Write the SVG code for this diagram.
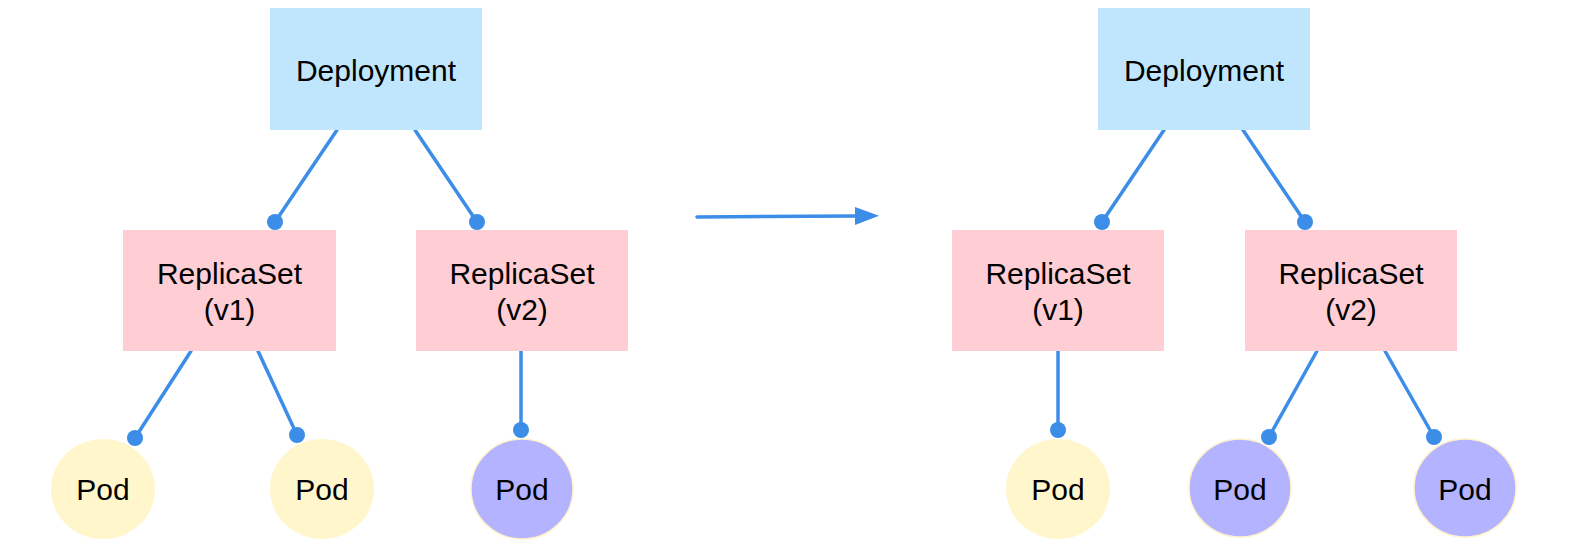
<svg xmlns="http://www.w3.org/2000/svg" width="1572" height="545" viewBox="0 0 1572 545">
<style>
text{font-family:"Liberation Sans",Arial,sans-serif;font-size:30px;fill:#000;text-anchor:middle}
.dep{fill:#c0e6fd}
.rs{fill:#ffced4}
.pody{fill:#fff6cc}
.podp{fill:#b3b3ff;stroke:#fff2cc;stroke-width:1.5}
.ln{stroke:#3c8de8;stroke-width:3.5;fill:none;stroke-linecap:round}
.dot{fill:#3c8de8}
</style>
<defs>
<marker id="ah" viewBox="0 0 24 18" refX="0" refY="9" markerWidth="24" markerHeight="18" markerUnits="userSpaceOnUse" orient="auto">
<path d="M0,0 L24,9 L0,18 Z" fill="#3c8de8"/>
</marker>
</defs>
<g id="connectors">
<line class="ln" x1="337" y1="130" x2="275" y2="222"/>
<line class="ln" x1="415" y1="130" x2="477" y2="222"/>
<line class="ln" x1="191" y1="351" x2="135" y2="438"/>
<line class="ln" x1="258" y1="351" x2="297" y2="435"/>
<line class="ln" x1="521" y1="351" x2="521" y2="430"/>
<line class="ln" x1="1164" y1="130" x2="1102" y2="222"/>
<line class="ln" x1="1243" y1="130" x2="1305" y2="222"/>
<line class="ln" x1="1058" y1="351" x2="1058" y2="430"/>
<line class="ln" x1="1317" y1="351" x2="1269" y2="437"/>
<line class="ln" x1="1385" y1="351" x2="1434" y2="437"/>
<circle class="dot" cx="275" cy="222" r="8"/>
<circle class="dot" cx="477" cy="222" r="8"/>
<circle class="dot" cx="135" cy="438" r="8"/>
<circle class="dot" cx="297" cy="435" r="8"/>
<circle class="dot" cx="521" cy="430" r="8"/>
<circle class="dot" cx="1102" cy="222" r="8"/>
<circle class="dot" cx="1305" cy="222" r="8"/>
<circle class="dot" cx="1058" cy="430" r="8"/>
<circle class="dot" cx="1269" cy="437" r="8"/>
<circle class="dot" cx="1434" cy="437" r="8"/>
<line class="ln" x1="697" y1="217" x2="855" y2="216" marker-end="url(#ah)"/>
</g>
<g id="deployment1"><rect class="dep" x="270" y="8" width="212" height="122"/><text x="376" y="81">Deployment</text></g>
<g id="deployment2"><rect class="dep" x="1098" y="8" width="212" height="122"/><text x="1204" y="81">Deployment</text></g>
<g id="rs1v1"><rect class="rs" x="123" y="230" width="213" height="121"/><text x="229.5" y="284">ReplicaSet</text><text x="229.5" y="320">(v1)</text></g>
<g id="rs1v2"><rect class="rs" x="416" y="230" width="212" height="121"/><text x="522" y="284">ReplicaSet</text><text x="522" y="320">(v2)</text></g>
<g id="rs2v1"><rect class="rs" x="952" y="230" width="212" height="121"/><text x="1058" y="284">ReplicaSet</text><text x="1058" y="320">(v1)</text></g>
<g id="rs2v2"><rect class="rs" x="1245" y="230" width="212" height="121"/><text x="1351" y="284">ReplicaSet</text><text x="1351" y="320">(v2)</text></g>
<g id="pod1"><ellipse class="pody" cx="103" cy="489" rx="52" ry="50"/><text x="103" y="500">Pod</text></g>
<g id="pod2"><ellipse class="pody" cx="322" cy="489" rx="52" ry="50"/><text x="322" y="500">Pod</text></g>
<g id="pod3"><ellipse class="podp" cx="522" cy="489" rx="51" ry="50"/><text x="522" y="500">Pod</text></g>
<g id="pod4"><ellipse class="pody" cx="1058" cy="489" rx="52" ry="50"/><text x="1058" y="500">Pod</text></g>
<g id="pod5"><ellipse class="podp" cx="1240" cy="488" rx="51" ry="49"/><text x="1240" y="500">Pod</text></g>
<g id="pod6"><ellipse class="podp" cx="1465" cy="488" rx="51" ry="49"/><text x="1465" y="500">Pod</text></g>
</svg>
